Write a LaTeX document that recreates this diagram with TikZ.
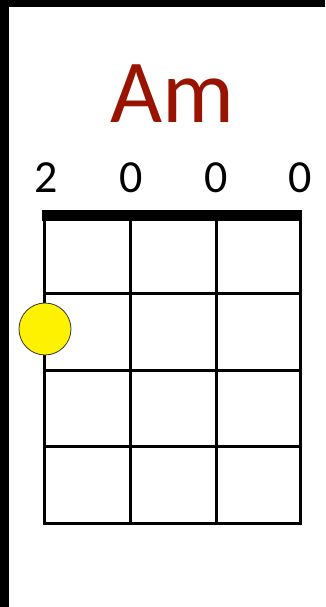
\documentclass[tikz,border=0pt]{standalone}
\usepackage{fontspec}
\setmainfont{Carlito}
\usepackage{xcolor}
\definecolor{chordred}{RGB}{153,20,0}

\begin{document}
\begin{tikzpicture}[x=1pt,y=-1pt]
  \useasboundingbox (0,0) rectangle (325,607);
  % 枠
  \fill[black] (0,0) rectangle (9,607);
  \fill[black] (0,0) rectangle (325,7);

  % コード名
  \node[anchor=base, inner sep=0pt, text=chordred, font=\fontsize{90}{90}\selectfont] (name) at (172,122) {Am};

  % 各弦の数字
  \foreach \x/\n [count=\i] in {46/2,131/0,216/0,300/0}
    \node[anchor=base, inner sep=0pt, font=\fontsize{46}{46}\selectfont] (num\i) at (\x,192) {\n};

  % ナット
  \fill[black] (42,210) rectangle (302,221);

  % 弦とフレット
  \foreach \x in {44,130,216,300}
    \draw[line width=3pt, line cap=rect] (\x,216) -- (\x,523);
  \foreach \y in {293,370,446,523}
    \draw[line width=3pt, line cap=rect] (44,\y) -- (300,\y);

  % 押さえる位置
  \filldraw[fill=yellow, draw=black!80, line width=0.8pt] (45,329) circle (26pt);
\end{tikzpicture}
\end{document}
